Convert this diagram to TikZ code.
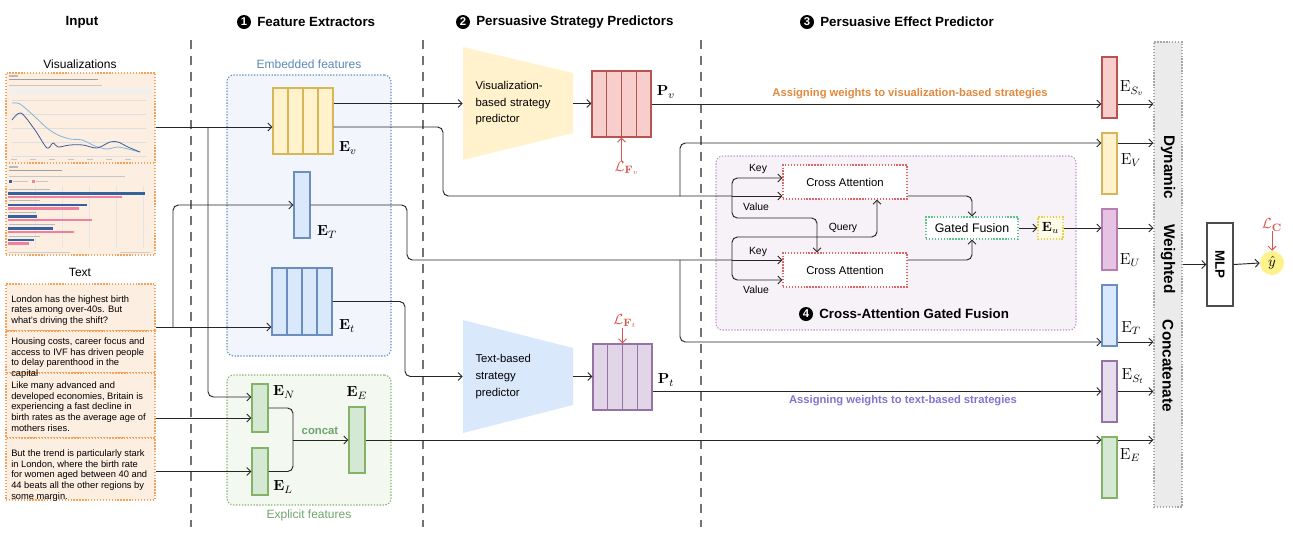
\documentclass[tikz,border=0pt]{standalone}
\usepackage[no-math]{fontspec}
\setmainfont{Liberation Sans}
\usepackage{amsmath, amssymb}
\usetikzlibrary{arrows.meta, positioning, calc}

\definecolor{inline}{HTML}{F5A25D}
\definecolor{infill}{HTML}{FDEEE2}
\definecolor{embline}{HTML}{5B8CC4}
\definecolor{embfill}{HTML}{F2F6FC}
\definecolor{embtext}{HTML}{5B89B8}
\definecolor{expline}{HTML}{82B366}
\definecolor{expfill}{HTML}{F3F8F1}
\definecolor{exptext}{HTML}{6FA56A}
\definecolor{yelfill}{HTML}{FFF2CC}
\definecolor{yelline}{HTML}{D6B656}
\definecolor{bluefill}{HTML}{DAE8FC}
\definecolor{blueline}{HTML}{6C8EBF}
\definecolor{redfill}{HTML}{F8CECC}
\definecolor{redline}{HTML}{B85450}
\definecolor{purfill}{HTML}{E1D5E7}
\definecolor{purline}{HTML}{9673A6}
\definecolor{magfill}{HTML}{E6C3E2}
\definecolor{magline}{HTML}{B87DB5}
\definecolor{grnfill}{HTML}{D5E8D4}
\definecolor{grnline}{HTML}{82B366}
\definecolor{cagfill}{HTML}{F7F1F8}
\definecolor{cagline}{HTML}{C48FD0}
\definecolor{caline}{HTML}{E06666}
\definecolor{gfline}{HTML}{5FC48C}
\definecolor{euline}{HTML}{E6D040}
\definecolor{eufill}{HTML}{FFFCE8}
\definecolor{barfill}{HTML}{EBEBEB}
\definecolor{lossred}{HTML}{D9534F}
\definecolor{visweight}{HTML}{E0893F}
\definecolor{txtweight}{HTML}{7E75D0}
\definecolor{yhatfill}{HTML}{FDF28C}
\definecolor{chartblue}{HTML}{34629F}
\definecolor{chartpink}{HTML}{F07FA0}
\definecolor{curvelight}{HTML}{7DB8DE}
\definecolor{curvedark}{HTML}{3D5B99}

\newcommand{\pxl}{0.75pt}

\begin{document}
\begin{tikzpicture}[x=0.75pt, y=-0.75pt,
    every node/.append style={font=\fontsize{8.5}{10}\selectfont},
    conn/.style={draw=black!85, line width=0.7pt, rounded corners=4pt,
                 -{Straight Barb[length=3pt, width=6pt]}},
    wire/.style={draw=black!85, line width=0.7pt, rounded corners=4pt},
    lossarr/.style={draw=lossred, line width=0.7pt, -{Straight Barb[length=3pt, width=6pt]}},
    divider/.style={draw=black!55, line width=0.8pt, dash pattern=on 7pt off 5pt},
    dots/.style={dash pattern=on 1pt off 1.2pt},
    head/.style={font=\fontsize{10}{12}\selectfont\bfseries},
    numdot/.style={circle, fill=black, text=white, inner sep=0pt, minimum size=14*\pxl,
                   font=\fontsize{8.5}{10}\selectfont\bfseries},
    sz/.style 2 args={minimum width=#1*\pxl, minimum height=#2*\pxl},
    inbox/.style={draw=inline, fill=infill, dots, line width=0.8pt, inner sep=0pt},
    para/.style={anchor=north west, align=left, inner sep=0pt, font=\fontsize{7}{8}\selectfont},
    lbl/.style={font=\fontsize{9}{11}\selectfont},
    vec/.style 2 args={draw=#1, fill=#2, line width=0.8pt, inner sep=0pt},
    cols/.style={path picture={\foreach \k in {0.25,0.5,0.75}{
        \draw[#1, line width=0.8pt]
          ($(path picture bounding box.north west)!\k!(path picture bounding box.north east)$) --
          ($(path picture bounding box.south west)!\k!(path picture bounding box.south east)$);}}},
    trap/.style n args={3}{inner sep=0pt, path picture={\fill[#1]
        (path picture bounding box.north west) -- ([yshift=-#2*\pxl]path picture bounding box.north east) --
        ([yshift=#3*\pxl]path picture bounding box.south east) -- (path picture bounding box.south west) -- cycle;}},
    predtxt/.style={align=left, text width=85*\pxl},
    emath/.style={font=\fontsize{11}{13}\selectfont, inner sep=0pt},
    rmath/.style={font=\fontsize{12}{14}\selectfont, inner sep=0pt},
    loss/.style={text=lossred, font=\fontsize{11}{13}\selectfont, inner sep=0pt},
    kv/.style={font=\fontsize{7.8}{9}\selectfont, inner sep=0pt},
    weight/.style={font=\fontsize{8.4}{10}\selectfont\bfseries},
    barlbl/.style={rotate=-90, font=\fontsize{11.5}{13}\selectfont\bfseries}
  ]
\useasboundingbox (0,0) rectangle (1293,537);

\node[head] (hin) at (82,22) {Input};
\node[numdot] (n1) at (244,22) {1};
\node[head, right=1pt of n1] (h1) {Feature Extractors};
\node[numdot] (n2) at (463,22) {2};
\node[head, right=1pt of n2] (h2) {Persuasive Strategy Predictors};
\node[numdot] (n3) at (807,22) {3};
\node[head, right=1pt of n3] (h3) {Persuasive Effect Predictor};

\draw[divider] (191,40) -- (191,527);
\draw[divider] (423,40) -- (423,527);
\draw[divider] (701,40) -- (701,527);

% input
\node[lbl] (vislbl) at (80,64) {Visualizations};
\node[inbox, sz={149}{182}] (vis) at (80.5,164) {};
\fill[gray!55] (9,75) rectangle (18,76.5);
\draw[gray!75, line width=0.4pt] (9,79) -- (98,79);
\draw[gray!45, line width=0.3pt] (9,85) -- (102,85);
\fill[gray!12] (9,89) rectangle (152,94);
\foreach \gy in {100,114,128,142,156} \draw[gray!25, line width=0.2pt] (12,\gy) -- (146,\gy);
\foreach \gx in {14,33,52,71,90,109,128} \fill[gray!45] (\gx-3,158.5) rectangle (\gx+3,160);
\draw[curvelight, line width=0.6pt] plot[smooth, tension=0.5] coordinates {(12,103) (20,104) (33,115) (47,128) (58,135) (70,139) (82,140) (95,146) (107,149) (118,147) (132,150) (140,152)};
\draw[curvedark, line width=0.6pt] plot[smooth, tension=0.5] coordinates {(12,120) (21,113) (35,130) (47,148) (53,143) (58,147) (70,145) (83,145) (97,148) (110,142) (118,142) (128,147) (140,152)};
\draw[inline, dots, line width=0.8pt] (6,163) -- (155,163);
\fill[gray!55] (9,166) rectangle (18,167.5);
\draw[gray!75, line width=0.4pt] (9,170) -- (62,170);
\draw[gray!45, line width=0.3pt] (9,176) -- (125,176);
\fill[chartblue] (9,180) rectangle (12,182.5);
\draw[gray!45, line width=0.3pt] (13,181.2) -- (28,181.2);
\fill[chartpink] (32,180) rectangle (35,182.5);
\draw[gray!45, line width=0.3pt] (36,181.2) -- (48,181.2);
\foreach \gx in {35,62,89,116,143} \draw[gray!20, line width=0.2pt] (\gx,186) -- (\gx,248);
\foreach \ly/\lw in {189/50, 200/40, 212/36, 224/55, 236/40} \draw[gray!55, line width=0.3pt] (9,\ly) -- (\lw,\ly);
\foreach \by/\bb/\bp in {192/145/122, 203.5/87/79, 215/37/92, 227/53/74, 238.5/34/29} {
  \fill[chartblue] (8,\by) rectangle (\bb,\by+2.6);
  \fill[chartpink] (8,\by+3.8) rectangle (\bp,\by+6.4);
}
\draw[gray!40, line width=0.3pt] (9,252) -- (70,252);
\draw[gray!40, line width=0.3pt] (120,252) -- (150,252);

\node[lbl] (txtlbl) at (80,272) {Text};
\node[inbox, sz={149}{47}] (sec1) at (80.5,307.5) {};
\node[inbox, sz={149}{42}] (sec2) at (80.5,352) {};
\node[inbox, sz={149}{65}] (sec3) at (80.5,405.5) {};
\node[inbox, sz={149}{62}] (sec4) at (80.5,469) {};
\node[para] (p1) at (11,295) {London has the highest birth\\rates among over-40s. But\\what's driving the shift?};
\node[para] (p2) at (11,337.5) {Housing costs, career focus and\\access to IVF has driven people\\to delay parenthood in the\\capital};
\node[para] (p3) at (11,381.5) {Like many advanced and\\developed economies, Britain is\\experiencing a fast decline in\\birth rates as the average age of\\mothers rises.};
\node[para] (p4) at (11,449.5) {But the trend is particularly stark\\in London, where the birth rate\\for women aged between 40 and\\44 beats all the other regions by\\some margin.};

% feature extractors
\node[draw=embline, fill=embfill, dots, line width=0.8pt, rounded corners=5pt, sz={164}{281}] (emb) at (309,215.5) {};
\node[lbl, text=embtext, above=1pt of emb] (embl) {Embedded features};
\node[draw=expline, fill=expfill, dots, line width=0.8pt, rounded corners=5pt, sz={164}{130}] (exp) at (309,440) {};
\node[lbl, text=exptext, below=0pt of exp] (expl) {Explicit features};

\node[vec={yelline}{yelfill}, cols=yelline, sz={60}{66}] (Ev) at (303,121) {};
\node[emath] (Evl) at (348,148) {$\mathbf{E}_v$};
\node[vec={blueline}{bluefill}, sz={16}{66}] (ET1) at (302,205) {};
\node[emath] (ET1l) at (327,232) {$\mathbf{E}_T$};
\node[vec={blueline}{bluefill}, cols=blueline, sz={60}{67}] (Et) at (302,301.5) {};
\node[emath] (Etl) at (347,326) {$\mathbf{E}_t$};
\node[vec={grnline}{grnfill}, sz={16}{48}] (EN) at (260,408) {};
\node[emath] (ENl) at (284,392) {$\mathbf{E}_N$};
\node[vec={grnline}{grnfill}, sz={16}{47}] (EL) at (260,471.5) {};
\node[emath] (ELl) at (283,487) {$\mathbf{E}_L$};
\node[vec={grnline}{grnfill}, sz={16}{66}] (EE) at (357,440) {};
\node[emath] (EEl) at (357,393) {$\mathbf{E}_E$};
\node[font=\fontsize{8.5}{10}\selectfont\bfseries, text=exptext] (cc) at (320,431) {concat};

% strategy predictors
\node[trap={yelfill}{26}{27}, sz={110}{113}, predtxt, font=\fontsize{8.5}{12.4}\selectfont] (vpred) at (518,103.5) {Visualization-\\based strategy\\predictor};
\node[trap={bluefill}{28}{28}, sz={110}{113}, predtxt, font=\fontsize{8.5}{13}\selectfont] (tpred) at (518,376.5) {Text-based\\strategy\\predictor};
\node[vec={redline}{redfill}, cols=redline, sz={59}{66}] (Pv) at (621.5,104) {};
\node[emath] (Pvl) at (666,92) {$\mathbf{P}_v$};
\node[vec={purline}{purfill}, cols=purline, sz={59}{66}] (Pt) at (622.5,377) {};
\node[emath] (Ptl) at (666,380) {$\mathbf{P}_t$};
\node[loss] (LFv) at (627,168) {$\mathcal{L}_{\mathbf{F}_v}$};
\node[loss] (LFt) at (625,321) {$\mathcal{L}_{\mathbf{F}_t}$};

% cross-attention gated fusion
\node[draw=cagline, fill=cagfill, dots, line width=0.8pt, rounded corners=5pt, sz={360}{174}] (cag) at (896,243) {};
\node[draw=caline, fill=white, dots, line width=0.8pt, sz={124}{34}] (CA1) at (845,182) {Cross Attention};
\node[draw=caline, fill=white, dots, line width=0.8pt, sz={124}{34}] (CA2) at (845,270) {Cross Attention};
\node[draw=gfline, fill=white, dots, line width=0.8pt, sz={92}{22}, font=\fontsize{9.3}{11}\selectfont] (GF) at (972,228) {Gated Fusion};
\node[draw=euline, fill=eufill, dots, line width=0.8pt, sz={25}{22}, inner sep=0pt, font=\fontsize{10}{12}\selectfont] (Eu) at (1050.5,228) {$\mathbf{E}_u$};
\node[numdot] (n4) at (806,314) {4};
\node[head, right=1pt of n4] (h4) {Cross-Attention Gated Fusion};
\node[kv] (key1) at (758,169) {Key};
\node[kv] (val1) at (756,207) {Value};
\node[kv] (qry) at (843,228) {Query};
\node[kv] (key2) at (758,252) {Key};
\node[kv] (val2) at (756,290) {Value};

% effect predictor
\node[vec={redline}{redfill}, sz={15}{61}] (ESv) at (1109.5,87.5) {};
\node[rmath] (ESvl) at (1132,88) {$\mathrm{E}_{S_v}$};
\node[vec={yelline}{yelfill}, sz={15}{61}] (EVf) at (1109.5,163.5) {};
\node[rmath] (EVfl) at (1131,160) {$\mathrm{E}_{V}$};
\node[vec={magline}{magfill}, sz={15}{61}] (EUf) at (1109.5,239.5) {};
\node[rmath] (EUfl) at (1130,260) {$\mathrm{E}_{U}$};
\node[vec={blueline}{bluefill}, sz={15}{61}] (ETf) at (1109.5,315.5) {};
\node[rmath] (ETfl) at (1131,328) {$\mathrm{E}_{T}$};
\node[vec={purline}{purfill!80}, sz={15}{61}] (ESt) at (1109.5,391.5) {};
\node[rmath] (EStl) at (1133,376) {$\mathrm{E}_{S_t}$};
\node[vec={grnline}{grnfill}, sz={15}{61}] (EEf) at (1109.5,467.5) {};
\node[rmath] (EEfl) at (1130,455) {$\mathrm{E}_{E}$};
\node[draw=gray!70, fill=barfill, dots, line width=0.8pt, inner sep=0pt, sz={28}{465}] (bar) at (1168,274.5) {};
\node[barlbl] (dyn) at (1168,167) {Dynamic};
\node[barlbl] (wtd) at (1168,259) {Weighted};
\node[barlbl] (cat) at (1168,366) {Concatenate};
\node[draw=black!70, fill=white, line width=0.9pt, inner sep=0pt, sz={26}{83},
      font=\fontsize{10}{12}\selectfont\bfseries] (mlp) at (1220,264.5) {\rotatebox{-90}{MLP}};
\node[circle, fill=yhatfill, inner sep=0pt, minimum size=24*\pxl, font=\fontsize{11}{13}\selectfont] (yhat) at (1272,263) {$\hat{y}$};
\node[loss] (LC) at (1272,225) {$\mathcal{L}_{\mathbf{C}}$};
\node[weight, text=visweight] (wv) at (910,94) {Assigning weights to visualization-based strategies};
\node[weight, text=txtweight] (wt) at (903,401) {Assigning weights to text-based strategies};

% junctions
\coordinate (jv) at (208,127);
\coordinate (kn) at (0,397);
\coordinate (jt) at (173,327);
\coordinate (k3) at (0,418);
\coordinate (m) at (293,440);
\coordinate (b1) at (443,196);
\coordinate (b2) at (407,260);
\coordinate (b3) at (405,376.5);
\coordinate (c1) at (680,196);
\coordinate (c2) at (680,260);
\coordinate (br1) at (732,196);
\coordinate (br2) at (732,260);
\coordinate (kv) at (0,143);
\coordinate (kT) at (0,342);
\coordinate (kk1) at (0,178);
\coordinate (kv2) at (0,280);
\coordinate (qa) at (817,218);
\coordinate (qb) at (877,237);

\draw[conn] (vis.east |- jv) -- (Ev.west |- jv);
\draw[conn] (jv) |- (EN.west |- kn);
\draw[conn] (sec1.east |- jt) -- (Et.west |- jt);
\draw[conn] (jt) |- (ET1.west);
\draw[conn] (sec3.east |- k3) -- (EN.west |- k3);
\draw[conn] (sec4.east |- EL.west) -- (EL.west);
\draw[wire] (EN.east) -| (m);
\draw[wire] (EL.east) -| (m);
\draw[conn] (m) -- (EE.west);
\draw[conn] (EE.east) -- (EEf.west |- EE.east);

\draw[conn] (Ev.east |- vpred.west) -- (vpred.west);
\draw[wire] (Ev.east |- jv) -| (b1) -- (br1);
\draw[conn] (c1) |- (EVf.west |- kv);
\draw[wire] (ET1.east) -| (b2) -- (br2);
\draw[conn] (c2) |- (ETf.west |- kT);
\draw[conn] (Et.east) -| (b3) -- (tpred.west);

\draw[conn] (vpred.east) -- (Pv.west |- vpred.east);
\draw[conn] (tpred.east) -- (Pt.west |- tpred.east);
\draw[conn] (Pv.east) -- (ESv.west |- Pv.east);
\draw[conn] (Pt.east |- ESt.west) -- (ESt.west);
\draw[lossarr] (LFv.north -| Pv.south) -- (Pv.south);
\draw[lossarr] (LFt.south -| Pt.north) -- (Pt.north);

\draw[conn] (br1) |- (CA1.west |- kk1);
\draw[conn] (br1) -- (CA1.west |- br1);
\draw[conn] (br1) |- (qa) -- (CA2.north -| qa);
\draw[conn] (br2) -- (CA2.west |- br2);
\draw[conn] (br2) |- (CA2.west |- kv2);
\draw[conn] (br2) |- (qb) -- (CA1.south -| qb);
\draw[conn] (CA1.east |- br1) -| (GF.north);
\draw[conn] (CA2.east |- br2) -| (GF.south);
\draw[conn] (GF.east) -- (Eu.west);
\draw[conn] (Eu.east) -- (EUf.west |- Eu.east);

\draw[conn] (ESv.east |- Pv.east) -- (bar.west |- Pv.east);
\draw[conn] (EVf.east |- kv) -- (bar.west |- kv);
\draw[conn] (EUf.east |- Eu.east) -- (bar.west |- Eu.east);
\draw[conn] (ETf.east |- kT) -- (bar.west |- kT);
\draw[conn] (ESt.east) -- (bar.west |- ESt.east);
\draw[conn] (EEf.east |- EE.east) -- (bar.west |- EE.east);
\draw[conn] (bar.east |- mlp.west) -- (mlp.west);
\draw[conn] (mlp.east) -- (yhat.west);
\draw[lossarr] (LC.south) -- (yhat.north);
\end{tikzpicture}
\end{document}
